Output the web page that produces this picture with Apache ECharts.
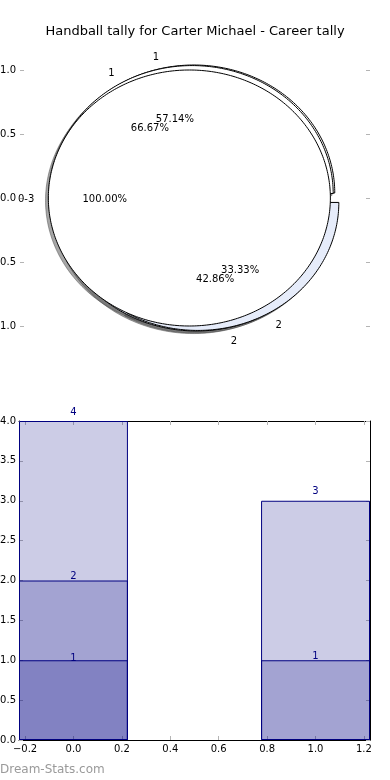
<!DOCTYPE html>
<html><head><meta charset="utf-8">
<script src="https://cdn.jsdelivr.net/npm/echarts@6/dist/echarts.min.js"></script>
<style>html,body{margin:0;padding:0;background:#fff}#c{width:390px;height:780px}</style>
</head><body><div id="c"></div>
<script>
// ---- data ----
const titleText = 'Handball tally for Carter Michael - Career tally';
const pieALabels = ['0-3'];
const pieAValues = [7];
const pieBLabels = ['1', '2'];
const pieBValues = [2, 1];
const pieCLabels = ['1', '2'];
const pieCValues = [4, 3];
const pieYTicks = [-1.0, -0.5, 0.0, 0.5, 1.0];

const barX = [0, 1];
const barTotal = [4, 3];
const barMid = [2, 1];
const barLow = [1, null];
const barXTicks = [-0.2, 0.0, 0.2, 0.4, 0.6, 0.8, 1.0, 1.2];
const watermark = 'Dream-Stats.com';

// ---- styling ----
const FONT = 'DejaVu Sans';
const wedgeColors = ['#ffffff', '#e6ecfa'];
const EXPLODE = 0.04;
const TEXT_DY = 1.5;
const fmt = v => v.toFixed(1).replace('-', '\u2212');

// draw order: C, B, A (A on top)
const pies = [
  {labels: pieCLabels, values: pieCValues},
  {labels: pieBLabels, values: pieBValues},
  {labels: pieALabels, values: pieAValues}
];
const wedges = [];
pies.forEach(p => {
  const tot = p.values.reduce((a, b) => a + b, 0);
  let a = 0;
  p.values.forEach((v, i) => {
    const t1 = a, t2 = a + v / tot * 360; a = t2;
    const tm = (t1 + t2) / 2 * Math.PI / 180;
    wedges.push({
      t1, t2, frac: v / tot, label: p.labels[i], color: wedgeColors[i % 2],
      cx: EXPLODE * Math.cos(tm), cy: EXPLODE * Math.sin(tm), tm,
      full: Math.abs(t2 - t1 - 360) < 1e-9
    });
  });
});

function wedgePoints(api, w, ox, oy) {
  const pts = [];
  const cx = w.cx + ox, cy = w.cy + oy;
  if (!w.full) pts.push(api.coord([cx, cy]));
  const n = Math.max(4, Math.ceil(w.t2 - w.t1));
  for (let i = 0; i <= n; i++) {
    const t = (w.t1 + (w.t2 - w.t1) * i / n) * Math.PI / 180;
    pts.push(api.coord([cx + Math.cos(t), cy + Math.sin(t)]));
  }
  return pts;
}

const wedgeData = wedges.map(() => [0, 0]);

const chart = echarts.init(document.getElementById('c'), null, {renderer: 'canvas'});

const tickStyle = {show: true, inside: true, length: 4, lineStyle: {color: '#b4b4b4', width: 1}};
const lineStyle = {show: true, onZero: false, lineStyle: {color: '#000', width: 1}};

function barSeries(vals, dist) {
  return {
    type: 'bar', xAxisIndex: 1, yAxisIndex: 2,
    data: barX.map((x, i) => [x, vals[i]]).filter(d => d[1] != null),
    barWidth: '45%', barGap: '-100%',
    itemStyle: {color: 'rgba(0,0,128,0.2)', borderColor: '#000080', borderWidth: 1},
    label: {show: true, position: 'top', distance: dist, color: '#000080', fontSize: 10, fontFamily: FONT,
      formatter: p => String(p.value[1])},
    z: 2
  };
}

chart.setOption({
  animation: false,
  backgroundColor: '#fff',
  title: {text: titleText, left: 'center', top: 20,
    textStyle: {fontSize: 13, fontWeight: 'normal', color: '#000', fontFamily: FONT}},
  graphic: [{type: 'text', left: 0, top: 764,
    style: {text: watermark, fill: '#9a9a9a', font: '12px "' + FONT + '"'}}],
  grid: [
    {left: 20, right: 20, top: 6, height: 384, containLabel: false, outerBoundsMode: 'none'},
    {left: 19, right: 20, top: 421, bottom: 40, containLabel: false, outerBoundsMode: 'none'}
  ],
  xAxis: [
    {gridIndex: 0, type: 'value', min: -1.241, max: 1.241, show: false},
    {gridIndex: 1, type: 'value', min: -0.225, max: 1.225, position: 'bottom',
      axisLine: lineStyle,
      axisTick: Object.assign({customValues: barXTicks}, tickStyle),
      axisLabel: {customValues: barXTicks, formatter: fmt, color: '#000', fontSize: 10, fontFamily: FONT, margin: 4},
      splitLine: {show: false}},
    {gridIndex: 1, type: 'value', min: -0.225, max: 1.225, position: 'top',
      axisLine: lineStyle,
      axisTick: Object.assign({customValues: barXTicks}, tickStyle),
      axisLabel: {show: false}, splitLine: {show: false}}
  ],
  yAxis: [
    {gridIndex: 0, type: 'value', min: -1.5, max: 1.5, position: 'left',
      axisLine: {show: false, onZero: false},
      axisTick: Object.assign({customValues: pieYTicks}, tickStyle),
      axisLabel: {customValues: pieYTicks, formatter: fmt, color: '#000', fontSize: 10, fontFamily: FONT, margin: 4},
      splitLine: {show: false}},
    {gridIndex: 0, type: 'value', min: -1.5, max: 1.5, position: 'right',
      axisLine: {show: false, onZero: false},
      axisTick: Object.assign({customValues: pieYTicks}, tickStyle),
      axisLabel: {show: false}, splitLine: {show: false}},
    {gridIndex: 1, type: 'value', min: 0, max: 4, interval: 0.5, position: 'left',
      axisLine: lineStyle,
      axisTick: tickStyle,
      axisLabel: {formatter: fmt, color: '#000', fontSize: 10, fontFamily: FONT, margin: 3},
      splitLine: {show: false}},
    {gridIndex: 1, type: 'value', min: 0, max: 4, interval: 0.5, position: 'right',
      axisLine: lineStyle,
      axisTick: tickStyle,
      axisLabel: {show: false}, splitLine: {show: false}}
  ],
  series: [
    // shadows
    {type: 'custom', xAxisIndex: 0, yAxisIndex: 0, data: wedgeData, z: 1, silent: true,
      renderItem: (params, api) => {
        const w = wedges[params.dataIndex];
        return {type: 'polygon', shape: {points: wedgePoints(api, w, -0.02, -0.02)},
          style: {fill: 'rgba(77,77,77,0.5)', stroke: 'rgba(77,77,77,0.5)', lineWidth: 1}};
      }},
    // wedges
    {type: 'custom', xAxisIndex: 0, yAxisIndex: 0, data: wedgeData, z: 2, silent: true,
      renderItem: (params, api) => {
        const w = wedges[params.dataIndex];
        return {type: 'polygon', shape: {points: wedgePoints(api, w, 0, 0)},
          style: {fill: w.color, stroke: '#000', lineWidth: 1}};
      }},
    // labels
    {type: 'custom', xAxisIndex: 0, yAxisIndex: 0, data: wedgeData, z: 3, silent: true,
      renderItem: (params, api) => {
        const w = wedges[params.dataIndex];
        const lx = w.cx + 1.1 * Math.cos(w.tm), ly = w.cy + 1.1 * Math.sin(w.tm);
        const px = w.cx + 0.6 * Math.cos(w.tm), py = w.cy + 0.6 * Math.sin(w.tm);
        const lp = api.coord([lx, ly]), pp = api.coord([px, py]);
        return {type: 'group', children: [
          {type: 'text', x: lp[0], y: lp[1] + TEXT_DY, style: {text: w.label, fill: '#000', font: '10px "' + FONT + '"',
            align: lx > 0 ? 'left' : 'right', verticalAlign: 'middle'}},
          {type: 'text', x: pp[0], y: pp[1] + TEXT_DY, style: {text: (w.frac * 100).toFixed(2) + '%', fill: '#000',
            font: '10px "' + FONT + '"', align: 'center', verticalAlign: 'middle'}}
        ]};
      }},
    barSeries(barTotal, 4),
    barSeries(barMid, -1),
    barSeries(barLow, -3)
  ]
});
</script>
</body></html>
